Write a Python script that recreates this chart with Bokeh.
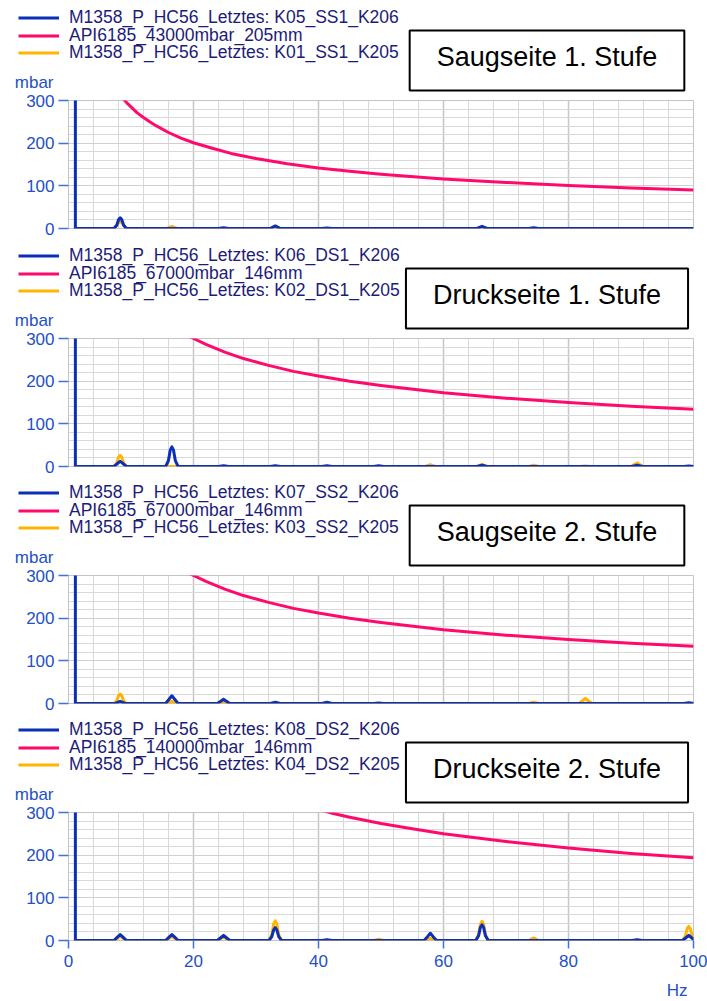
from bokeh.plotting import figure
from bokeh.models import Legend, LegendItem, Label, FixedTicker, Range1d
from bokeh.layouts import column
from bokeh.embed import file_html
from bokeh.resources import INLINE

# ---------------- data ----------------
panel_titles = ["Saugseite 1. Stufe", "Druckseite 1. Stufe", "Saugseite 2. Stufe", "Druckseite 2. Stufe"]

blue_labels = ["M1358_P_HC56_Letztes: K05_SS1_K206", "M1358_P_HC56_Letztes: K06_DS1_K206",
               "M1358_P_HC56_Letztes: K07_SS2_K206", "M1358_P_HC56_Letztes: K08_DS2_K206"]
pink_labels = ["API6185_43000mbar_205mm", "API6185_67000mbar_146mm",
               "API6185_67000mbar_146mm", "API6185_140000mbar_146mm"]
orange_labels = ["M1358_P_HC56_Letztes: K01_SS1_K205", "M1358_P_HC56_Letztes: K02_DS1_K205",
                 "M1358_P_HC56_Letztes: K03_SS2_K205", "M1358_P_HC56_Letztes: K04_DS2_K205"]

x_ticks_hz = [0, 20, 40, 60, 80, 100]
y_ticks_mbar = [0, 100, 200, 300]

# API 618 limit curves
api_43000_hz = [8, 8.5, 9, 9.5, 10, 11, 12, 13, 14, 16, 18, 20, 23, 26, 30, 35, 40, 45, 50, 60, 70, 80, 90, 100]
api_43000_mbar = [318, 309, 300, 292, 285, 271, 260, 250, 241, 225, 212, 201, 188, 176, 164, 152, 142,
                  134, 127, 116, 108, 101, 95, 90]
api_67000_hz = [18, 19, 20, 22, 25, 28, 32, 36, 40, 45, 50, 60, 70, 80, 90, 100]
api_67000_mbar = [316, 307, 300, 286, 268, 253, 237, 223, 212, 200, 190, 173, 160, 150, 141, 134]
api_140000_hz = [40, 42, 45, 50, 55, 60, 70, 80, 90, 100]
api_140000_mbar = [307, 299, 289, 274, 262, 250, 232, 217, 204, 194]

# Panel 1: Saugseite 1. Stufe
k05_ss1_hz = [1.1, 1.1, 7.27, 7.72, 8.02, 8.27, 8.52, 8.82, 9.27, 24.01, 24.81, 25.61, 32.28, 33.08, 33.88,
              40.55, 41.35, 42.15, 65.36, 66.16, 66.96, 73.63, 74.43, 75.23, 100]
k05_ss1_mbar = [1500, 0, 0, 7.5, 21, 25, 21, 7.5, 0, 0, 2, 0, 0, 6, 0, 0, 1, 0, 0, 5, 0, 0, 2, 0, 0]
k01_ss1_hz = [1.1, 7.27, 7.82, 8.27, 8.72, 9.27, 15.74, 16.54, 17.34, 32.28, 33.08, 33.88,
              65.36, 66.16, 66.96, 100]
k01_ss1_mbar = [0, 0, 10, 18, 10, 0, 0, 5, 0, 0, 5, 0, 0, 3, 0, 0]

# Panel 2: Druckseite 1. Stufe
k06_ds1_hz = [1.1, 1.1, 7.27, 7.82, 8.27, 8.72, 9.27, 15.54, 15.99, 16.29, 16.54, 16.79, 17.09, 17.54,
              24.01, 24.81, 25.61, 32.28, 33.08, 33.88, 40.55, 41.35, 42.15, 48.82, 49.62, 50.42,
              65.36, 66.16, 66.96, 90.17, 90.97, 91.77, 98.44, 99.24, 100.04]
k06_ds1_mbar = [1500, 0, 0, 7, 12, 7, 0, 0, 14, 39, 46, 39, 14, 0, 0, 2, 0, 0, 2, 0, 0, 2, 0, 0, 2, 0,
                0, 3, 0, 0, 3, 0, 0, 1, 0]
k02_ds1_hz = [1.1, 7.27, 7.72, 8.02, 8.27, 8.52, 8.82, 9.27, 57.09, 57.89, 58.69, 65.36, 66.16, 66.96,
              73.63, 74.43, 75.23, 81.9, 82.7, 83.5, 89.97, 90.52, 90.97, 91.42, 91.97, 100]
k02_ds1_mbar = [0, 0, 8, 22, 26, 22, 8, 0, 0, 4, 0, 0, 5, 0, 0, 3, 0, 0, 1, 0, 0, 4.5, 8, 4.5, 0, 0]

# Panel 3: Saugseite 2. Stufe
k07_ss2_hz = [1.1, 1.1, 7.47, 8.27, 9.07, 15.54, 16.09, 16.54, 16.99, 17.54, 23.81, 24.36, 24.81,
              25.26, 25.81, 32.28, 33.08, 33.88, 40.55, 41.35, 42.15, 48.82, 49.62, 50.42,
              98.44, 99.24, 100.04]
k07_ss2_mbar = [1500, 0, 0, 5, 0, 0, 10, 18, 10, 0, 0, 5.5, 10, 5.5, 0, 0, 3, 0, 0, 3, 0, 0, 1, 0,
                0, 2, 0]
k03_ss2_hz = [1.1, 7.27, 7.72, 8.02, 8.27, 8.52, 8.82, 9.27, 15.74, 16.54, 17.34, 24.01, 24.81, 25.61,
              73.63, 74.43, 75.23, 81.7, 82.25, 82.7, 83.15, 83.7, 100]
k03_ss2_mbar = [0, 0, 6.5, 19, 22, 19, 6.5, 0, 0, 5, 0, 0, 5, 0, 0, 3, 0, 0, 6.5, 12, 6.5, 0, 0]

# Panel 4: Druckseite 2. Stufe
k08_ds2_hz = [1.1, 1.1, 7.27, 7.82, 8.27, 8.72, 9.27, 15.54, 16.09, 16.54, 16.99, 17.54,
              23.81, 24.36, 24.81, 25.26, 25.81, 32.08, 32.53, 32.83, 33.08, 33.33, 33.63, 34.08,
              40.55, 41.35, 42.15, 56.89, 57.44, 57.89, 58.34, 58.89, 65.16, 65.61, 65.91, 66.16,
              66.41, 66.71, 67.16, 90.17, 90.97, 91.77, 98.24, 98.79, 99.24, 99.69, 100.24]
k08_ds2_mbar = [1500, 0, 0, 8, 14, 8, 0, 0, 8, 14, 8, 0, 0, 6.5, 12, 6.5, 0, 0, 9, 25, 30, 25, 9, 0,
                0, 2, 0, 0, 9, 17, 9, 0, 0, 11, 31, 37, 31, 11, 0, 0, 2, 0, 0, 6.5, 12, 6.5, 0]
k04_ds2_hz = [1.1, 7.27, 7.82, 8.27, 8.72, 9.27, 15.54, 16.09, 16.54, 16.99, 17.54, 23.81, 24.36,
              24.81, 25.26, 25.81, 32.08, 32.53, 32.83, 33.08, 33.33, 33.63, 34.08, 48.82, 49.62, 50.42,
              57.09, 57.89, 58.69, 65.16, 65.61, 65.91, 66.16, 66.41, 66.71, 67.16, 73.63, 74.43, 75.23,
              98.24, 98.69, 98.99, 99.24, 99.49, 99.79, 100.24]
k04_ds2_mbar = [0, 0, 5.5, 10, 5.5, 0, 0, 5.5, 10, 5.5, 0, 0, 4.5, 8, 4.5, 0, 0, 14, 39, 46, 39, 14, 0,
                0, 3, 0, 0, 5, 0, 0, 13.5, 38, 45, 38, 13.5, 0, 0, 6, 0, 0, 10, 28, 33, 28, 10, 0]

blue_series = [(k05_ss1_hz, k05_ss1_mbar), (k06_ds1_hz, k06_ds1_mbar),
               (k07_ss2_hz, k07_ss2_mbar), (k08_ds2_hz, k08_ds2_mbar)]
orange_series = [(k01_ss1_hz, k01_ss1_mbar), (k02_ds1_hz, k02_ds1_mbar),
                 (k03_ss2_hz, k03_ss2_mbar), (k04_ds2_hz, k04_ds2_mbar)]
pink_series = [(api_43000_hz, api_43000_mbar), (api_67000_hz, api_67000_mbar),
               (api_67000_hz, api_67000_mbar), (api_140000_hz, api_140000_mbar)]

# ---------------- styling ----------------
FONT = "Liberation Sans"
BLUE = "#0b2fb6"
PINK = "#ff0a6c"
ORANGE = "#ffb400"
AXIS_BLUE = "#2350c8"
TICK_BLUE = "#4272d8"
LEGEND_TEXT = "#1c1c78"
W = 707
HEADER_H = 92
NO_POINT = [float("nan")]
LEGEND_ROW_OFFSETS = [64, 46.5, 29]   # distance of each legend row from the header bottom


def bare_figure(height):
    fig = figure(width=W, height=height, x_range=Range1d(0, W), y_range=Range1d(height, 0),
                 output_backend="svg", toolbar_location=None, frame_align=False,
                 x_axis_location=None, y_axis_location=None,
                 min_border=0, min_border_left=0, min_border_right=0,
                 min_border_top=0, min_border_bottom=0)
    fig.grid.visible = False
    fig.outline_line_color = None
    return fig


def header_figure(i):
    """Legend, title box and unit label above each chart (pixel coordinates)."""
    h = bare_figure(HEADER_H)
    entries = [(blue_labels[i], BLUE), (pink_labels[i], PINK), (orange_labels[i], ORANGE)]
    for (label, color), off in zip(entries, LEGEND_ROW_OFFSETS):
        g = h.line(x=NO_POINT, y=NO_POINT, line_color=color, line_width=3)
        legend = Legend(items=[LegendItem(label=label, renderers=[g])],
                        location=(18, off), orientation="vertical",
                        padding=0, margin=0, spacing=0,
                        glyph_width=41, glyph_height=17, label_height=17, label_standoff=10,
                        label_text_font=FONT, label_text_font_size="17.5px",
                        label_text_color=LEGEND_TEXT,
                        border_line_color=None, background_fill_alpha=0)
        h.add_layout(legend, "center")

    title = Label(x=546.5, y=60, text=panel_titles[i],
                  text_font=FONT, text_font_size="27px", text_color="black",
                  text_align="center", text_baseline="middle",
                  padding=(27, 27, 11, 19),
                  background_fill_color="white", border_line_color="black", border_line_width=2)
    h.add_layout(title, "center")

    h.add_layout(Label(x=53, y=82, text="mbar", text_font=FONT, text_font_size="17px",
                       text_color=AXIS_BLUE, text_align="right", text_baseline="middle"), "center")
    return h


data_heights = [146, 145, 145, 171]
data_bottoms = [10, 9, 9, 35]

figs = []
for i in range(4):
    last = (i == 3)
    figs.append(header_figure(i))

    p = figure(width=W, height=data_heights[i], x_range=Range1d(0, 100), y_range=Range1d(0, 300),
               output_backend="svg", toolbar_location=None, frame_align=False,
               x_axis_location="below" if last else None,
               min_border_left=68, min_border_right=14, min_border_top=8,
               min_border_bottom=data_bottoms[i])
    p.outline_line_color = "#c4c4c4"
    p.outline_line_width = 1

    p.xgrid.ticker = FixedTicker(ticks=x_ticks_hz, minor_ticks=list(range(0, 101, 4)))
    p.xgrid.grid_line_color = "#c6c6c6"
    p.xgrid.grid_line_width = 1.5
    p.xgrid.minor_grid_line_color = "#d8d8d8"
    p.xgrid.minor_grid_line_width = 1
    p.ygrid.ticker = FixedTicker(ticks=y_ticks_mbar, minor_ticks=list(range(0, 301, 20)))
    p.ygrid.grid_line_color = "#d0d0d0"
    p.ygrid.minor_grid_line_color = "#d9d9d9"
    p.ygrid.minor_grid_line_width = 1

    p.yaxis.ticker = FixedTicker(ticks=y_ticks_mbar, minor_ticks=[])
    p.yaxis.axis_line_color = None
    p.yaxis.major_tick_line_color = TICK_BLUE
    p.yaxis.major_tick_line_width = 1.5
    p.yaxis.major_tick_out = 10
    p.yaxis.major_tick_in = 0
    p.yaxis.minor_tick_line_color = None
    p.yaxis.major_label_standoff = 4
    p.yaxis.major_label_text_font = FONT
    p.yaxis.major_label_text_font_size = "17px"
    p.yaxis.major_label_text_color = AXIS_BLUE

    if last:
        p.xaxis.ticker = FixedTicker(ticks=x_ticks_hz, minor_ticks=[])
        p.xaxis.axis_line_color = None
        p.xaxis.major_tick_line_color = TICK_BLUE
        p.xaxis.major_tick_line_width = 1.5
        p.xaxis.major_tick_out = 8
        p.xaxis.major_tick_in = 0
        p.xaxis.minor_tick_line_color = None
        p.xaxis.major_label_standoff = 6
        p.xaxis.major_label_text_font = FONT
        p.xaxis.major_label_text_font_size = "17px"
        p.xaxis.major_label_text_color = AXIS_BLUE

    bx, by = blue_series[i]
    ox, oy = orange_series[i]
    kx, ky = pink_series[i]
    p.line(ox, oy, line_color=ORANGE, line_width=3, line_join="round")
    p.line(bx, by, line_color=BLUE, line_width=3, line_join="round")
    p.line(kx, ky, line_color=PINK, line_width=3, line_join="round")
    figs.append(p)

# footer with the x unit
f = bare_figure(25)
f.add_layout(Label(x=687, y=15, text="Hz", text_font=FONT, text_font_size="17px",
                   text_color=AXIS_BLUE, text_align="right", text_baseline="middle"), "center")
figs.append(f)

layout = column(*figs, spacing=0)
open("out.html", "w").write(file_html(layout, INLINE))
